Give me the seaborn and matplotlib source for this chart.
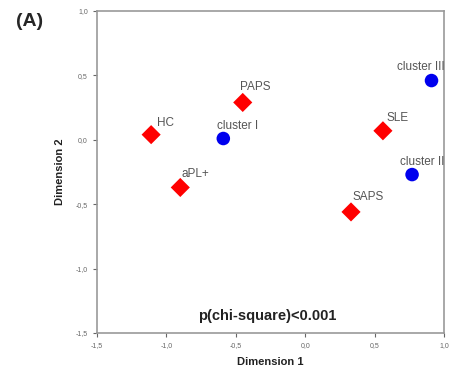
import matplotlib
matplotlib.use("Agg")
import matplotlib.pyplot as plt
import seaborn as sns
import pandas as pd

categories = ["HC", "PAPS", "aPL+", "SAPS", "SLE"]
cat_x = [-1.11, -0.45, -0.90, 0.33, 0.56]
cat_y = [0.04, 0.29, -0.37, -0.56, 0.07]

clusters = ["cluster I", "cluster II", "cluster III"]
clu_x = [-0.59, 0.77, 0.91]
clu_y = [0.01, -0.27, 0.46]

ticks = [-1.5, -1.0, -0.5, 0.0, 0.5, 1.0]
tick_labels = ["-1,5", "-1,0", "-0,5", "0,0", "0,5", "1,0"]

sns.set_style("white")
plt.rcParams['font.family'] = ['Liberation Sans', 'DejaVu Sans']

df = pd.DataFrame({
    "x": cat_x + clu_x,
    "y": cat_y + clu_y,
    "label": categories + clusters,
    "kind": ["cat"] * len(categories) + ["clu"] * len(clusters),
})

fig = plt.figure(figsize=(4.52, 3.66), dpi=100)
ax = fig.add_axes([97/452, 1 - 333/366, (444-97)/452, (333-11)/366])

sns.scatterplot(data=df, x="x", y="y", hue="kind", style="kind",
                palette={"cat": "#ff0000", "clu": "#0000ee"},
                markers={"cat": "D", "clu": "o"},
                s=95, edgecolor="none", legend=False, ax=ax)

offsets = {
    "HC": (6, 12), "PAPS": (-3, 15), "aPL+": (1, 13), "SAPS": (1, 15), "SLE": (4, 13),
    "cluster I": (-6, 13), "cluster II": (-12, 13), "cluster III": (-35, 14),
}
for _, r in df.iterrows():
    ax.annotate(r["label"], (r["x"], r["y"]), xytext=offsets[r["label"]],
                textcoords="offset pixels", fontsize=8.5, color="#555555",
                ha="left", va="center")

ax.text(-0.27, -1.37, "p(chi-square)<0.001", fontsize=10.5, fontweight="bold",
        ha="center", va="center", color="#222222")

ax.set_xlim(-1.5, 1.0)
ax.set_ylim(-1.5, 1.0)
ax.set_xticks(ticks)
ax.set_xticklabels(tick_labels)
ax.set_yticks(ticks)
ax.set_yticklabels(tick_labels)
ax.tick_params(axis="both", labelsize=5, colors="#666666", length=3, width=0.8,
               direction="out", bottom=True, left=True)
for s in ax.spines.values():
    s.set_color("#999999")
    s.set_linewidth(1.2)

ax.set_xlabel("Dimension 1", fontsize=8, fontweight="bold", color="#222222", labelpad=6)
ax.set_ylabel("Dimension 2", fontsize=8, fontweight="bold", color="#222222", labelpad=8)

fig.text(16/452, 1 - 22/366, "(A)", fontsize=14, fontweight="bold", ha="left", va="center")

fig.savefig("out.png", dpi=100)
